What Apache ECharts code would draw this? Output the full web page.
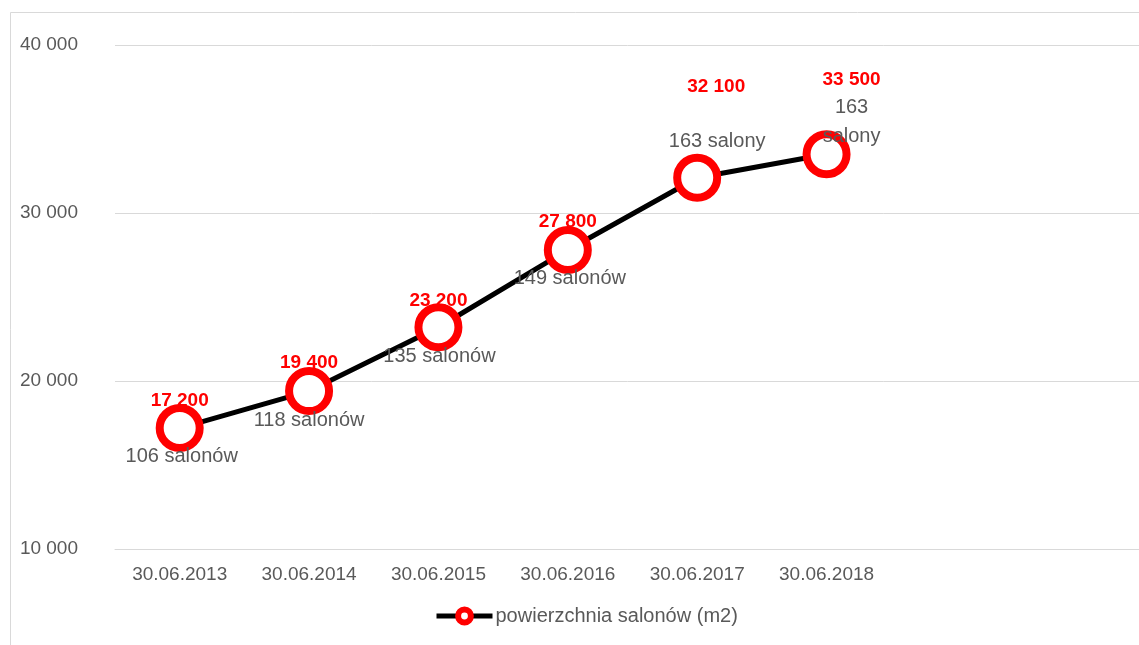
<!DOCTYPE html>
<html lang="pl">
<head>
    <meta charset="UTF-8">
    <title>Powierzchnia salonów</title>
    <script src="https://cdn.jsdelivr.net/npm/echarts@6/dist/echarts.min.js"></script>
</head>
<body style="margin: 0">
<div id="chart" style="width: 1139px;height: 645px"></div>

<script>
    // data
    let categories = ['30.06.2013', '30.06.2014', '30.06.2015', '30.06.2016', '30.06.2017', '30.06.2018', '', ''];
    let areaValues = [17200, 19400, 23200, 27800, 32100, 33500];
    let salonLabels = ['106 salonów', '118 salonów', '135 salonów', '149 salonów', '163 salony', '163\nsalony'];

    // label placement (px offsets from the marker centre)
    let valueOffsets = [[0, -27], [0, -28], [0, -26], [0, -28], [19, -91], [25, -74]];
    let salonOffsets = [[2, 28], [0, 29], [1, 29], [2, 29], [20, -36], [25, -32]];

    const font = '"Liberation Sans", Arial, sans-serif';
    const grey = '#595959';

    function fmt(v) {
        return String(v).replace(/\B(?=(\d{3})+(?!\d))/g, ' ');
    }

    let valueData = areaValues.map((v, i) => ({
        value: v,
        label: { offset: valueOffsets[i] }
    }));
    let salonData = areaValues.map((v, i) => ({
        value: v,
        label: { offset: salonOffsets[i], formatter: salonLabels[i] }
    }));

    let chart = echarts.init(document.getElementById('chart'));
    chart.setOption({
        backgroundColor: '#ffffff',
        textStyle: { fontFamily: font },
        animation: false,
        graphic: [{
            type: 'rect',
            shape: { x: 10.5, y: 12.5, width: 1300, height: 800 },
            style: { fill: 'none', stroke: '#d9d9d9', lineWidth: 1 },
            z: -1
        }],
        grid: { left: 115, right: -11, top: 45, bottom: 96, outerBoundsMode: 'none' },
        legend: {
            data: ['powierzchnia salonów (m2)'],
            left: 434,
            top: 606,
            padding: 0,
            itemWidth: 56,
            itemHeight: 16,
            lineStyle: { color: '#000000', width: 5 },
            itemStyle: { color: '#ffffff', borderColor: '#ff0000', borderWidth: 6 },
            textStyle: { fontSize: 20, color: grey, fontFamily: font, padding: [0, 0, 0, -2] }
        },
        xAxis: {
            type: 'category',
            data: categories,
            boundaryGap: true,
            axisTick: { show: false },
            axisLine: { lineStyle: { color: '#d9d9d9' } },
            axisLabel: { fontSize: 19, color: grey, margin: 16, interval: 0 }
        },
        yAxis: {
            type: 'value',
            min: 10000,
            max: 40000,
            interval: 10000,
            axisLine: { show: false },
            axisTick: { show: false },
            splitLine: { lineStyle: { color: '#d9d9d9' } },
            axisLabel: { fontSize: 19, color: grey, margin: 37, formatter: fmt }
        },
        series: [
            {
                name: 'powierzchnia salonów (m2)',
                type: 'line',
                data: valueData,
                symbol: 'circle',
                symbolSize: 40,
                lineStyle: { color: '#000000', width: 5 },
                itemStyle: { color: '#ffffff', borderColor: '#ff0000', borderWidth: 8 },
                label: {
                    show: true,
                    position: 'inside',
                    formatter: p => fmt(p.value),
                    fontSize: 19,
                    fontWeight: 'bold',
                    color: '#ff0000',
                    fontFamily: font
                },
                z: 3
            },
            {
                name: 'salony',
                type: 'line',
                data: salonData,
                symbol: 'circle',
                symbolSize: 1,
                silent: true,
                lineStyle: { width: 0, opacity: 0 },
                itemStyle: { color: 'transparent', borderWidth: 0 },
                label: {
                    show: true,
                    position: 'inside',
                    fontSize: 20,
                    lineHeight: 29,
                    color: grey,
                    fontFamily: font
                },
                z: 4
            }
        ]
    });
</script>
</body>
</html>
